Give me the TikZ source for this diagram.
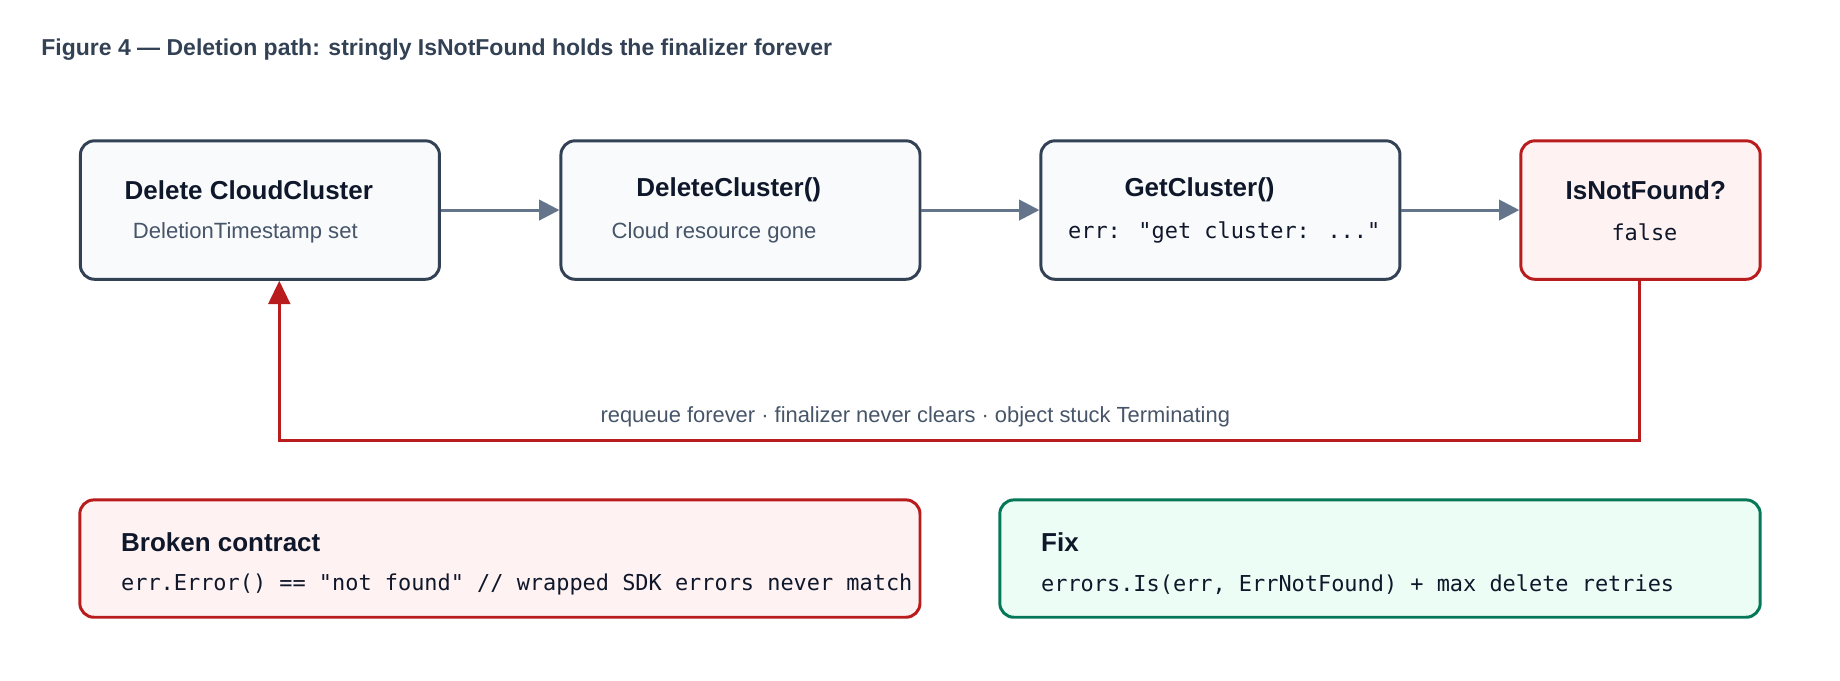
\documentclass[tikz,border=0pt]{standalone}
\usepackage{fontspec}
\setmainfont{Liberation Sans}
\newfontfamily\monofont{DejaVu Sans Mono}
\usetikzlibrary{arrows.meta}
\definecolor{slateline}{HTML}{334155}
\definecolor{slatefill}{HTML}{F8FAFC}
\definecolor{arrowgray}{HTML}{64748B}
\definecolor{badline}{HTML}{B91C1C}
\definecolor{badfill}{HTML}{FEF2F2}
\definecolor{goodline}{HTML}{047857}
\definecolor{goodfill}{HTML}{ECFDF5}
\definecolor{inktext}{HTML}{0F172A}
\definecolor{subtext}{HTML}{475569}
\tikzset{
  stage/.style={draw=slateline, fill=slatefill, line width=1.9pt, rounded corners=9pt,
    minimum width=229.5pt, minimum height=88.5pt, inner sep=0pt},
  check/.style={stage, draw=badline, fill=badfill, minimum width=153pt},
  note/.style={draw=#1line, fill=#1fill, line width=1.9pt, rounded corners=9pt,
    minimum height=75pt, inner sep=0pt},
  head/.style={anchor=west, inner sep=0pt, font=\fontsize{16.6}{19}\selectfont\bfseries, text=inktext},
  sub/.style={anchor=west, inner sep=0pt, font=\fontsize{14.1}{16}\selectfont, text=subtext},
  code/.style={anchor=west, inner sep=0pt, font=\fontsize{14}{16}\selectfont\monofont, text=inktext},
  flow/.style={arrowgray, line width=1.9pt, -{Triangle[length=13pt,width=13pt]}},
}
\begin{document}
\begin{tikzpicture}[x=0.75pt,y=-0.75pt]
\useasboundingbox (0,0) rectangle (1568,579.5);
\node[anchor=west, inner sep=0pt, font=\fontsize{14.7}{17}\selectfont\bfseries, text=slateline] (title) at (35,42) {Figure 4 — Deletion path: stringly IsNotFound holds the finalizer forever};

% the four steps
\node[stage] (delete) at (221.5,179) {};
\node[stage] (callapi) at (631,179) {};
\node[stage] (getcl) at (1040,179) {};
\node[check] (notfound) at (1398,179) {};

\node[head] at (106,162) {Delete CloudCluster};
\node[sub] at (113,198) {DeletionTimestamp set};
\node[head] at (542,162) {DeleteCluster()};
\node[sub] at (521,198) {Cloud resource gone};
\node[head] at (958,162) {GetCluster()};
\node[code] at (910,198) {err: "get cluster: ..."};
\node[head] at (1334,162) {IsNotFound?};
\node[code] at (1373,198) {false};

\draw[flow] (delete) -- (callapi);
\draw[flow] (callapi) -- (getcl);
\draw[flow] (getcl) -- (notfound);

% requeue loop
\coordinate (loopR) at (1397,375);
\coordinate (loopL) at (238,375);
\draw[badline, line width=1.9pt, -{Triangle[length=15pt,width=14pt]}]
  (notfound.south -| loopR) -- (loopR) -- (loopL) -- (delete.south -| loopL);
\node[font=\fontsize{14}{16}\selectfont, text=subtext] (looplbl) at (780,355) {requeue forever · finalizer never clears · object stuck Terminating};

% contract and fix
\node[note=bad, minimum width=537pt] (broken) at (426,476) {};
\node[note=good, minimum width=486pt] (fix) at (1176,476) {};
\node[head] at (103,462) {Broken contract};
\node[code] at (103,498) {err.Error() == "not found" // wrapped SDK errors never match};
\node[head] at (887,462) {Fix};
\node[code] at (887,498) {errors.Is(err, ErrNotFound) + max delete retries};
\end{tikzpicture}
\end{document}
